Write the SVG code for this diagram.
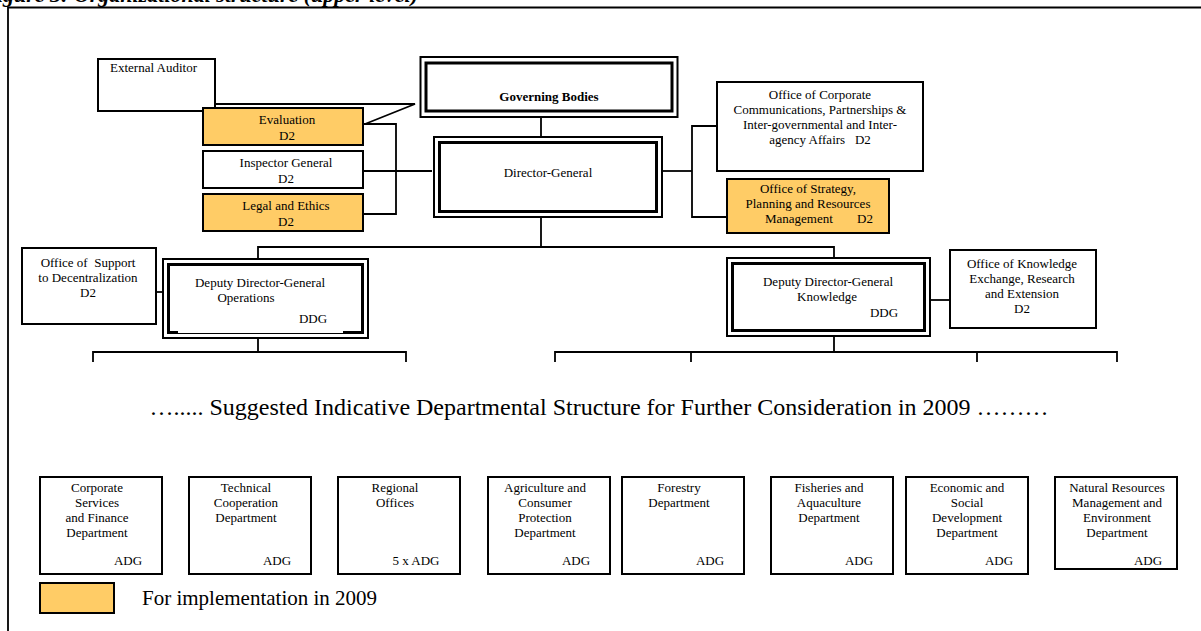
<svg xmlns="http://www.w3.org/2000/svg" width="1201" height="631" viewBox="0 0 1201 631">
<style>
text{font-family:"Liberation Serif","Times New Roman",serif;font-size:13px;fill:#000;text-anchor:middle}
.box{fill:#fff;stroke:#000;stroke-width:2}
.hi{fill:#FFCC66;stroke:#000;stroke-width:2}
.outer{fill:#fff;stroke:#000;stroke-width:2}
.inner{fill:none;stroke:#000;stroke-width:3}
.ln{fill:none;stroke:#000;stroke-width:1.8}
.st{text-anchor:start}
</style>
<rect width="1201" height="631" fill="#fff"/>
<text x="418" y="2" style="font-size:22px;font-weight:bold;font-style:italic;text-anchor:end">Figure 3: Organizational structure (upper level)</text>
<path class="ln" d="M8,631 V7.5 H1201"/>
<g id="connectors">
<path class="ln" d="M215,104 H415 L365,124"/>
<path class="ln" d="M541,117 V137"/>
<path class="ln" d="M363,124 H396 V214 H363"/>
<path class="ln" d="M363,171 H432"/>
<path class="ln" d="M662,171 H692"/>
<path class="ln" d="M718,126 H692 V217 H728"/>
<path class="ln" d="M541,217 V247 M258,259 V247 H834 V258"/>
<path class="ln" d="M156,292 H164"/>
<path class="ln" d="M930,300 H950"/>
<path class="ln" d="M258,338 V352 M93,362 V352 H406 V362"/>
<path class="ln" d="M834,336 V352 M555,362 V352 H1117 V362 M691,352 V362 M977,352 V362"/>
</g>
<g id="external-auditor"><rect class="box" x="98" y="59" width="117" height="52"/><text x="110" y="72" class="st">External Auditor</text></g>
<g id="governing-bodies"><rect class="outer" x="420.5" y="57" width="257" height="60"/><rect class="inner" x="426" y="63" width="246" height="48"/><text x="549" y="101" style="font-weight:bold">Governing Bodies</text></g>
<g id="evaluation"><rect class="hi" x="203" y="108" width="160" height="37"/><text x="287" y="124">Evaluation</text><text x="287" y="140">D2</text></g>
<g id="inspector-general"><rect class="box" x="203" y="151" width="160" height="37"/><text x="286" y="167">Inspector General</text><text x="286" y="183">D2</text></g>
<g id="legal-ethics"><rect class="hi" x="203" y="194" width="160" height="37"/><text x="286" y="210">Legal and Ethics</text><text x="286" y="226">D2</text></g>
<g id="director-general"><rect class="outer" x="434" y="137" width="228" height="80"/><rect class="inner" x="439.5" y="142.5" width="217" height="69"/><text x="548" y="177">Director-General</text></g>
<g id="office-corporate"><rect class="box" x="717" y="82" width="206" height="89"/><text x="820" y="99">Office of Corporate</text><text x="820" y="114">Communications, Partnerships &amp;</text><text x="820" y="129">Inter-governmental and Inter-</text><text x="820" y="144" xml:space="preserve">agency Affairs   D2</text></g>
<g id="office-strategy"><rect class="hi" x="727" y="179" width="162" height="54"/><text x="808" y="193">Office of Strategy,</text><text x="808" y="208">Planning and Resources</text><text x="765" y="223" class="st">Management</text><text x="857" y="223" class="st">D2</text></g>
<g id="office-support"><rect class="box" x="22" y="248" width="134" height="76"/><text x="88" y="267" xml:space="preserve">Office of  Support</text><text x="88" y="282">to Decentralization</text><text x="88" y="297">D2</text></g>
<g id="ddg-operations"><rect class="outer" x="163" y="259" width="205" height="79"/><rect class="inner" x="168.5" y="264.5" width="194" height="68"/><rect x="178" y="331" width="165" height="3" fill="#fff"/><path d="M178,333.5 H343" stroke="#000" stroke-width="1"/><text x="260" y="287">Deputy Director-General</text><text x="246" y="302">Operations</text><text x="313" y="323">DDG</text></g>
<g id="ddg-knowledge"><rect class="outer" x="727" y="258" width="203" height="78"/><rect class="inner" x="732.5" y="263.5" width="192" height="67"/><text x="828" y="286">Deputy Director-General</text><text x="827" y="301">Knowledge</text><text x="884" y="317">DDG</text></g>
<g id="office-knowledge"><rect class="box" x="950" y="250" width="146" height="78"/><text x="1022" y="268">Office of Knowledge</text><text x="1022" y="283">Exchange, Research</text><text x="1022" y="298">and Extension</text><text x="1022" y="313">D2</text></g>
<text x="599" y="415" style="font-size:24px">…..... Suggested Indicative Departmental Structure for Further Consideration in 2009 ………</text>
<g id="dept-corporate"><rect class="box" x="40" y="477" width="122" height="97"/><text x="97" y="492">Corporate</text><text x="97" y="507">Services</text><text x="97" y="522">and Finance</text><text x="97" y="537">Department</text><text x="128" y="565">ADG</text></g>
<g id="dept-technical"><rect class="box" x="189" y="477" width="122" height="97"/><text x="246" y="492">Technical</text><text x="246" y="507">Cooperation</text><text x="246" y="522">Department</text><text x="277" y="565">ADG</text></g>
<g id="dept-regional"><rect class="box" x="338" y="477" width="122" height="97"/><text x="395" y="492">Regional</text><text x="395" y="507">Offices</text><text x="416" y="565">5 x ADG</text></g>
<g id="dept-agriculture"><rect class="box" x="488" y="477" width="122" height="97"/><text x="545" y="492">Agriculture and</text><text x="545" y="507">Consumer</text><text x="545" y="522">Protection</text><text x="545" y="537">Department</text><text x="576" y="565">ADG</text></g>
<g id="dept-forestry"><rect class="box" x="622" y="477" width="122" height="97"/><text x="679" y="492">Forestry</text><text x="679" y="507">Department</text><text x="710" y="565">ADG</text></g>
<g id="dept-fisheries"><rect class="box" x="771" y="477" width="122" height="97"/><text x="829" y="492">Fisheries and</text><text x="829" y="507">Aquaculture</text><text x="829" y="522">Department</text><text x="859" y="565">ADG</text></g>
<g id="dept-economic"><rect class="box" x="906" y="477" width="122" height="97"/><text x="967" y="492">Economic and</text><text x="967" y="507">Social</text><text x="967" y="522">Development</text><text x="967" y="537">Department</text><text x="999" y="565">ADG</text></g>
<g id="dept-natural"><rect class="box" x="1055" y="477" width="122" height="92"/><text x="1117" y="492">Natural Resources</text><text x="1117" y="507">Management and</text><text x="1117" y="522">Environment</text><text x="1117" y="537">Department</text><text x="1148" y="565">ADG</text></g>
<g id="legend"><rect class="hi" x="40" y="583" width="74" height="30"/><text x="142" y="605" class="st" style="font-size:21px">For implementation in 2009</text></g>
</svg>
